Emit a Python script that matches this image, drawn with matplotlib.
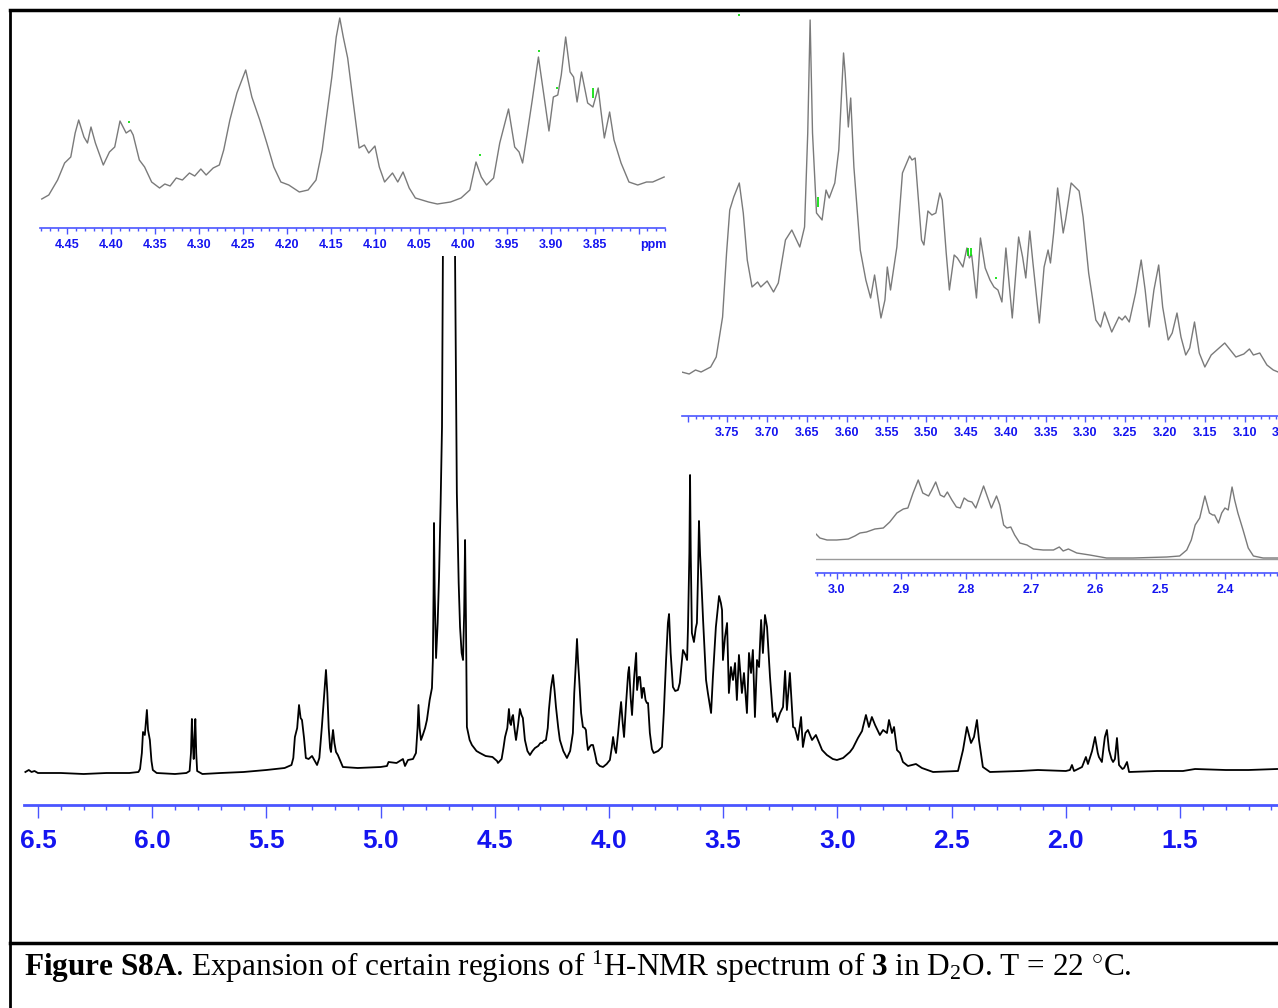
import matplotlib
matplotlib.use("Agg")
import matplotlib.pyplot as plt
from matplotlib.lines import Line2D
from matplotlib.ticker import MultipleLocator, FuncFormatter

W, H = 1278, 1008

# full 1H spectrum (ppm, intensity above baseline)
main_ppm = [
    6.555, 6.540, 6.528, 6.515, 6.50, 6.40, 6.30, 6.20, 6.10, 6.06,
    6.053, 6.045, 6.040, 6.032, 6.023, 6.018, 6.010, 6.003, 5.997, 5.98,
    5.90, 5.85, 5.836, 5.830, 5.826, 5.822, 5.818, 5.815, 5.811, 5.807,
    5.803, 5.78, 5.70, 5.60, 5.50, 5.42, 5.39, 5.382, 5.375, 5.365,
    5.357, 5.350, 5.344, 5.335, 5.327, 5.315, 5.300, 5.288, 5.278, 5.268,
    5.257, 5.248, 5.239, 5.233, 5.227, 5.221, 5.217, 5.212, 5.208, 5.202,
    5.195, 5.187, 5.178, 5.165, 5.10, 5.00, 4.972, 4.965, 4.93, 4.902,
    4.893, 4.880, 4.858, 4.845, 4.838, 4.834, 4.829, 4.823, 4.815, 4.805,
    4.797, 4.785, 4.775, 4.771, 4.768, 4.766, 4.763, 4.757, 4.750, 4.744,
    4.737, 4.731, 4.727, 4.715, 4.700, 4.685, 4.674, 4.666, 4.658, 4.652,
    4.645, 4.639, 4.634, 4.630, 4.626, 4.622, 4.610, 4.600, 4.580, 4.565,
    4.540, 4.510, 4.490, 4.486, 4.470, 4.462, 4.455, 4.445, 4.438, 4.433,
    4.429, 4.424, 4.420, 4.414, 4.407, 4.398, 4.390, 4.383, 4.377, 4.368,
    4.357, 4.346, 4.335, 4.324, 4.310, 4.300, 4.293, 4.285, 4.276, 4.268,
    4.263, 4.254, 4.245, 4.238, 4.232, 4.222, 4.215, 4.200, 4.184, 4.170,
    4.158, 4.152, 4.145, 4.140, 4.135, 4.131, 4.122, 4.114, 4.106, 4.101,
    4.096, 4.092, 4.085, 4.078, 4.070, 4.060, 4.053, 4.040, 4.026, 4.010,
    3.996, 3.988, 3.982, 3.975, 3.969, 3.960, 3.952, 3.947, 3.940, 3.934,
    3.925, 3.916, 3.912, 3.905, 3.899, 3.890, 3.881, 3.877, 3.870, 3.864,
    3.856, 3.851, 3.847, 3.840, 3.834, 3.829, 3.821, 3.812, 3.804, 3.785,
    3.768, 3.760, 3.750, 3.742, 3.737, 3.730, 3.720, 3.710, 3.698, 3.690,
    3.676, 3.665, 3.658, 3.654, 3.648, 3.645, 3.642, 3.637, 3.628, 3.620,
    3.615, 3.610, 3.606, 3.601, 3.597, 3.588, 3.575, 3.567, 3.553, 3.545,
    3.532, 3.518, 3.510, 3.505, 3.501, 3.492, 3.483, 3.475, 3.466, 3.457,
    3.448, 3.440, 3.431, 3.418, 3.409, 3.400, 3.396, 3.387, 3.378, 3.370,
    3.361, 3.352, 3.343, 3.334, 3.326, 3.317, 3.308, 3.295, 3.282, 3.273,
    3.264, 3.251, 3.238, 3.229, 3.221, 3.208, 3.194, 3.186, 3.173, 3.159,
    3.151, 3.140, 3.129, 3.111, 3.094, 3.067, 3.046, 3.020, 3.002, 2.975,
    2.945, 2.932, 2.910, 2.892, 2.888, 2.875, 2.862, 2.849, 2.835, 2.814,
    2.800, 2.783, 2.774, 2.761, 2.752, 2.739, 2.726, 2.713, 2.691, 2.656,
    2.630, 2.581, 2.472, 2.450, 2.433, 2.415, 2.402, 2.389, 2.380, 2.363,
    2.332, 2.20, 2.122, 2.00, 1.982, 1.973, 1.964, 1.929, 1.912, 1.903,
    1.885, 1.872, 1.860, 1.855, 1.842, 1.835, 1.829, 1.820, 1.811, 1.800,
    1.793, 1.785, 1.776, 1.767, 1.752, 1.745, 1.732, 1.723, 1.60, 1.487,
    1.434, 1.30, 1.20, 1.075,
]
main_int = [
    1, 3, 1, 2, 0, 0, -1, 0, 0, 1,
    4, 20, 41, 38, 63, 43, 33, 12, 3, 0,
    -1, 0, 2, 20, 54, 30, 14, 30, 54, 20,
    2, -1, 0, 1, 3, 5, 8, 15, 36, 45,
    68, 55, 53, 35, 15, 14, 17, 12, 8, 15,
    46, 75, 103, 80, 45, 25, 21, 35, 43, 30,
    21, 18, 13, 6, 5, 6, 7, 11, 10, 14,
    7, 13, 14, 20, 45, 68, 45, 33, 38, 45,
    53, 73, 85, 113, 180, 250, 180, 115, 150, 196,
    270, 346, 520, 1000, 1400, 1000, 520, 280, 190, 146,
    120, 113, 160, 233, 150, 46, 33, 28, 22, 20,
    17, 16, 12, 10, 14, 25, 36, 45, 64, 50,
    48, 56, 58, 45, 33, 48, 64, 58, 55, 33,
    22, 18, 22, 25, 27, 30, 30, 32, 33, 45,
    63, 85, 98, 82, 66, 45, 33, 22, 15, 22,
    40, 80, 110, 134, 110, 96, 60, 46, 45, 43,
    30, 23, 26, 28, 28, 18, 10, 7, 6, 9,
    13, 25, 36, 25, 20, 40, 60, 71, 50, 36,
    70, 100, 106, 75, 58, 95, 120, 83, 96, 96,
    75, 85, 85, 73, 70, 70, 40, 24, 20, 22,
    26, 60, 113, 150, 159, 120, 86, 82, 83, 90,
    123, 118, 113, 146, 220, 298, 220, 140, 131, 145,
    150, 200, 252, 218, 200, 153, 93, 80, 60, 96,
    146, 177, 170, 163, 113, 136, 150, 80, 106, 93,
    110, 73, 118, 80, 100, 73, 60, 120, 100, 123,
    56, 113, 106, 153, 120, 158, 146, 96, 56, 60,
    51, 60, 66, 102, 63, 100, 46, 45, 33, 56,
    26, 40, 43, 33, 38, 23, 18, 14, 13, 15,
    21, 25, 35, 42, 46, 58, 46, 56, 48, 38,
    43, 40, 53, 40, 46, 23, 20, 11, 7, 9,
    5, 1, 2, 23, 46, 30, 36, 53, 33, 6,
    1, 2, 3, 2, 3, 8, 2, 6, 16, 9,
    22, 36, 20, 16, 11, 25, 36, 43, 23, 14,
    11, 14, 35, 8, 4, 5, 11, 1, 2, 2,
    4, 3, 3, 4,
]

# expansion 4.48 - 3.77 ppm
exp1_ppm = [
    4.479, 4.471, 4.461, 4.453, 4.446, 4.441, 4.437, 4.431, 4.427, 4.423,
    4.418, 4.409, 4.402, 4.396, 4.390, 4.383, 4.378, 4.375, 4.368, 4.362,
    4.354, 4.345, 4.339, 4.333, 4.326, 4.319, 4.311, 4.305, 4.298, 4.292,
    4.284, 4.277, 4.272, 4.265, 4.257, 4.247, 4.240, 4.231, 4.223, 4.215,
    4.207, 4.198, 4.186, 4.176, 4.167, 4.160, 4.154, 4.149, 4.144, 4.140,
    4.136, 4.131, 4.125, 4.118, 4.112, 4.107, 4.100, 4.095, 4.089, 4.080,
    4.074, 4.068, 4.061, 4.054, 4.039, 4.029, 4.014, 4.002, 3.992, 3.985,
    3.979, 3.973, 3.965, 3.958, 3.948, 3.941, 3.936, 3.932, 3.927, 3.921,
    3.914, 3.907, 3.902, 3.897, 3.892, 3.888, 3.883, 3.878, 3.874, 3.870,
    3.865, 3.858, 3.852, 3.846, 3.843, 3.839, 3.833, 3.828, 3.820, 3.811,
    3.801, 3.791, 3.784, 3.771,
]
exp1_int = [
    7, 11, 26, 43, 49, 73, 86, 69, 63, 79,
    63, 41, 54, 59, 85, 73, 76, 71, 46, 39,
    24, 18, 22, 20, 28, 26, 33, 30, 37, 31,
    38, 41, 56, 86, 113, 136, 109, 86, 63, 39,
    24, 21, 14, 16, 26, 56, 96, 129, 169, 188,
    169, 148, 106, 58, 61, 53, 60, 39, 24, 33,
    24, 34, 18, 8, 4, 2, 4, 8, 16, 44,
    29, 21, 28, 63, 97, 59, 54, 43, 71, 106,
    149, 106, 75, 109, 111, 131, 169, 134, 129, 104,
    134, 103, 99, 118, 96, 68, 94, 66, 43, 24,
    21, 24, 24, 29,
]

# expansion 3.81 - 3.05 ppm
exp2_ppm = [
    3.8075, 3.798, 3.790, 3.783, 3.771, 3.764, 3.756, 3.751, 3.747, 3.742,
    3.735, 3.730, 3.725, 3.719, 3.712, 3.708, 3.700, 3.692, 3.686, 3.677,
    3.669, 3.659, 3.653, 3.649, 3.646, 3.643, 3.638, 3.631, 3.626, 3.622,
    3.615, 3.610, 3.604, 3.602, 3.598, 3.595, 3.591, 3.583, 3.576, 3.570,
    3.565, 3.557, 3.552, 3.549, 3.545, 3.537, 3.530, 3.521, 3.518, 3.514,
    3.506, 3.503, 3.498, 3.493, 3.488, 3.483, 3.480, 3.475, 3.471, 3.465,
    3.461, 3.454, 3.449, 3.446, 3.443, 3.437, 3.432, 3.426, 3.420, 3.415,
    3.410, 3.405, 3.400, 3.392, 3.384, 3.379, 3.375, 3.370, 3.366, 3.358,
    3.352, 3.347, 3.344, 3.340, 3.335, 3.328, 3.325, 3.318, 3.308, 3.303,
    3.296, 3.287, 3.281, 3.276, 3.267, 3.258, 3.254, 3.250, 3.245, 3.237,
    3.230, 3.225, 3.220, 3.214, 3.208, 3.203, 3.196, 3.191, 3.185, 3.180,
    3.174, 3.169, 3.163, 3.157, 3.150, 3.142, 3.135, 3.125, 3.118, 3.111,
    3.101, 3.094, 3.089, 3.081, 3.072, 3.064, 3.058, 3.045,
]
exp2_int = [
    1, -1, 3, 1, 6, 16, 56, 120, 163, 176,
    190, 160, 113, 86, 91, 86, 92, 81, 90, 133,
    143, 126, 146, 240, 353, 240, 160, 153, 183, 175,
    190, 223, 320, 300, 246, 275, 206, 123, 93, 75,
    98, 55, 73, 106, 83, 126, 200, 217, 213, 215,
    133, 128, 162, 158, 160, 180, 173, 120, 83, 118,
    115, 106, 125, 115, 118, 75, 135, 105, 93, 86,
    83, 71, 125, 55, 136, 116, 95, 142, 110, 50,
    106, 123, 110, 140, 185, 140, 153, 190, 182, 156,
    100, 53, 46, 61, 41, 56, 53, 57, 51, 80,
    113, 83, 46, 83, 108, 66, 33, 40, 60, 36,
    18, 25, 51, 20, 6, 18, 23, 30, 23, 16,
    19, 24, 18, 20, 8, 3, 1, -2,
]

# expansion 3.03 - 2.32 ppm
exp3_ppm = [
    3.032, 3.026, 3.015, 3.000, 2.982, 2.972, 2.964, 2.954, 2.941, 2.928,
    2.918, 2.907, 2.897, 2.890, 2.882, 2.874, 2.867, 2.858, 2.853, 2.847,
    2.840, 2.834, 2.829, 2.822, 2.815, 2.809, 2.803, 2.797, 2.791, 2.785,
    2.779, 2.773, 2.767, 2.761, 2.753, 2.748, 2.742, 2.737, 2.731, 2.725,
    2.717, 2.706, 2.696, 2.681, 2.665, 2.656, 2.650, 2.642, 2.629, 2.609,
    2.583, 2.542, 2.490, 2.470, 2.459, 2.452, 2.446, 2.439, 2.431, 2.424,
    2.419, 2.416, 2.410, 2.405, 2.400, 2.395, 2.389, 2.385, 2.380, 2.372,
    2.364, 2.356, 2.341, 2.318,
]
exp3_int = [
    25, 21, 19, 19, 20, 23, 26, 27, 30, 31,
    37, 46, 50, 51, 66, 79, 66, 63, 69, 77,
    64, 62, 67, 59, 52, 51, 61, 58, 57, 51,
    62, 73, 62, 51, 63, 54, 34, 31, 32, 24,
    16, 14, 10, 9, 9, 12, 8, 10, 6, 4,
    1, 1, 2, 3, 9, 19, 34, 41, 63, 46,
    44, 44, 36, 46, 51, 49, 72, 59, 46, 29,
    11, 3, 1, 1,
]

# peak-pick markers (ppm, low, high)
marks1 = [(4.380, 83, 85), (3.913, 154, 156), (3.893, 117, 119), (3.852, 108, 118), (3.981, 50, 52)]
marks2 = [(3.636, 166, 176), (3.448, 117, 125), (3.444, 117, 125), (3.413, 94, 96), (3.736, 357, 359)]

CAPTION = (r"$\mathbf{Figure\ S8A}$. Expansion of certain regions of $^{1}$H-NMR "
           r"spectrum of $\mathbf{3}$ in D$_{2}$O. T = 22 $^{\circ}$C.")

AXIS_BLUE = "#4a55ff"
LABEL_BLUE = "#1414f0"
TICK_FONT = ["Liberation Sans Narrow", "Liberation Sans", "DejaVu Sans"]

plt.rcParams["mathtext.fontset"] = "custom"
plt.rcParams["mathtext.rm"] = "Liberation Serif"
plt.rcParams["mathtext.bf"] = "Liberation Serif:bold"
plt.rcParams["mathtext.it"] = "Liberation Serif:italic"


def px_rect(left, top, right, bottom):
    return [left / W, 1 - bottom / H, (right - left) / W, (bottom - top) / H]


def ppm_formatter(fmt, hidden=()):
    def f(v, pos):
        for h in hidden:
            if abs(v - h) < 1e-6:
                return ""
        return fmt % v
    return FuncFormatter(f)


def style_axis(ax, major, minor, fmt, size, major_len, minor_len, pad, lw, hidden=()):
    for side in ("top", "left", "right"):
        ax.spines[side].set_visible(False)
    ax.spines["bottom"].set_color(AXIS_BLUE)
    ax.spines["bottom"].set_linewidth(lw)
    ax.set_yticks([])
    ax.xaxis.set_major_locator(MultipleLocator(major))
    ax.xaxis.set_minor_locator(MultipleLocator(minor))
    ax.xaxis.set_major_formatter(ppm_formatter(fmt, hidden))
    ax.tick_params(axis="x", which="major", direction="out", length=major_len,
                   width=1.0, color=AXIS_BLUE, pad=pad, labelsize=size,
                   labelcolor=LABEL_BLUE)
    ax.tick_params(axis="x", which="minor", direction="out", length=minor_len,
                   width=1.0, color=AXIS_BLUE)
    for lab in ax.get_xticklabels():
        lab.set_fontfamily(TICK_FONT)
        lab.set_fontweight("bold")
    ax.patch.set_alpha(0)


fig = plt.figure(figsize=(W / 100, H / 100), dpi=100)

# main spectrum
ax = fig.add_axes(px_rect(24, 256, 1278, 805))
ax.plot(main_ppm, main_int, color="black", lw=1.3)
ax.set_xlim(6.561, 1.071)
ax.set_ylim(-32, 517)
style_axis(ax, 0.5, 0.1, "%.1f", 19, 9.5, 3.8, 7.5, 2.0)

# expansions
ax1 = fig.add_axes(px_rect(40, 12, 665, 228))
ax1.plot(exp1_ppm, exp1_int, color="#7a7a7a", lw=1.0)
for p, lo, hi in marks1:
    ax1.vlines(p, lo, hi, color="#00dd00", lw=1.2)
ax1.set_xlim(4.481, 3.770)
ax1.set_ylim(-22, 194)
style_axis(ax1, 0.05, 0.01, "%.2f", 9, 4, 2.5, 4, 1.2, hidden=(3.80,))
ax1.text(653, 1008 - 245, "ppm", transform=None, ha="center", va="center",
         fontsize=9, fontweight="bold", color=LABEL_BLUE, family=TICK_FONT)

ax2 = fig.add_axes(px_rect(682, 12, 1290, 416))
ax2.plot(exp2_ppm, exp2_int, color="#7a7a7a", lw=1.0)
for p, lo, hi in marks2:
    ax2.vlines(p, lo, hi, color="#00dd00", lw=1.2)
ax2.set_xlim(3.807, 3.043)
ax2.set_ylim(-43, 361)
style_axis(ax2, 0.05, 0.01, "%.2f", 9, 4, 2.5, 4, 1.2, hidden=(3.80,))

ax3 = fig.add_axes(px_rect(816, 470, 1278, 573))
ax3.axhline(0, color="#9a9a9a", lw=1.0)
ax3.plot(exp3_ppm, exp3_int, color="#7a7a7a", lw=1.0)
ax3.set_xlim(3.032, 2.318)
ax3.set_ylim(-14, 89)
style_axis(ax3, 0.1, 0.01, "%.1f", 9, 4, 2.5, 4, 1.2)

# frame and caption rule
fig.add_artist(Line2D([10 / W, 1], [1 - 10 / H] * 2, color="black", lw=2.5))
fig.add_artist(Line2D([10 / W] * 2, [0, 1 - 10 / H], color="black", lw=2.0))
fig.add_artist(Line2D([10 / W, 1], [1 - 943 / H] * 2, color="black", lw=2.5))

fig.text(24 / W, 1 - 976 / H, CAPTION, ha="left", va="baseline",
         fontsize=22.5, family="Liberation Serif")

fig.savefig("out.png", dpi=100)
